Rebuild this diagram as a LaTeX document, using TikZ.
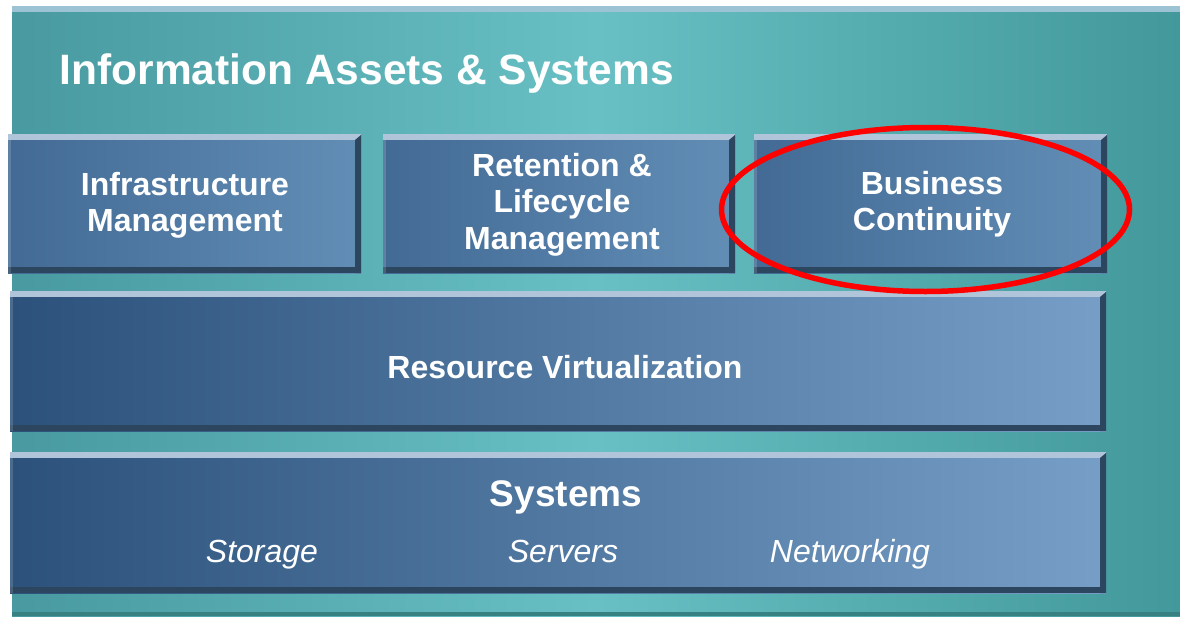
\documentclass[tikz,border=0pt]{standalone}
\usepackage{fontspec}
\setmainfont{Liberation Sans}
\usetikzlibrary{shapes.geometric}
\definecolor{tealL}{RGB}{72,154,160}
\definecolor{tealM}{RGB}{104,192,196}
\definecolor{tealR}{RGB}{66,152,154}
\definecolor{topL}{RGB}{66,106,148}
\definecolor{topR}{RGB}{98,142,182}
\definecolor{wideL}{RGB}{44,82,124}
\definecolor{wideR}{RGB}{118,158,198}
\definecolor{bevlight}{RGB}{176,196,218}
\definecolor{bevdark}{RGB}{44,70,96}
\tikzset{
  bevelbox/.style={rectangle, inner sep=0pt, text=white,
    path picture={
      \fill[bevlight] (path picture bounding box.north west) rectangle ([yshift=-6pt]path picture bounding box.north east);
      \fill[bevdark] ([xshift=-6pt,yshift=-6pt]path picture bounding box.north east) -- ([yshift=-1pt]path picture bounding box.north east) -- (path picture bounding box.south east) -- ([xshift=-6pt]path picture bounding box.south east) -- cycle;
      \fill[bevdark] (path picture bounding box.south west) rectangle ([xshift=-1pt,yshift=6pt]path picture bounding box.south east);
      \fill[white,opacity=0.15] (path picture bounding box.south west) rectangle ([xshift=3pt,yshift=-6pt]path picture bounding box.north west);
    }},
  topbox/.style={bevelbox, left color=topL, right color=topR, minimum height=139pt},
  widebox/.style={bevelbox, left color=wideL, right color=wideR, minimum width=1096pt, minimum height=140pt},
  lbl/.style={text=white, inner sep=0pt, anchor=base, align=center},
  sublbl/.style={text=white, inner sep=0pt, anchor=base, font=\itshape\fontsize{32}{37}\selectfont},
}
\begin{document}
\begin{tikzpicture}[x=1pt,y=-1pt]
\useasboundingbox (0,0) rectangle (1180,616);
\fill[white] (0,0) rectangle (1180,616);
% panel
\shade[left color=tealL, right color=tealR, middle color=tealM] (12,6) rectangle (1180,616);
\fill[tealR!85!black] (12,612) rectangle (1180,616);
\fill[bevlight!70!tealM] (12,6) rectangle (1180,12);
\node[anchor=base west, text=white, inner sep=0pt, font=\bfseries\fontsize{42.5}{50}\selectfont] (title) at (59.5,84) {Information Assets \& Systems};
% top row
\node[topbox, minimum width=353pt] (infra) at (184.5,203.5) {};
\node[lbl, font=\bfseries\fontsize{32}{35.5}\selectfont] (infraT) at (185,231) {Infrastructure\\Management};
\node[topbox, minimum width=352pt] (ret) at (559,203.5) {};
\node[lbl, font=\bfseries\fontsize{32}{36.5}\selectfont] (retT) at (562,249) {Retention \&\\Lifecycle\\Management};
\node[topbox, minimum width=353pt] (bc) at (930.5,203.5) {};
\node[lbl, font=\bfseries\fontsize{32}{36}\selectfont] (bcT) at (932,230) {Business\\Continuity};
% wide boxes
\node[widebox] (rv) at (558,361) {};
\node[lbl, font=\bfseries\fontsize{32}{37}\selectfont] (rvT) at (565,378.3) {Resource Virtualization};
\node[widebox, minimum height=141pt] (sys) at (558,522.5) {};
\node[lbl, font=\bfseries\fontsize{37}{42}\selectfont] (sysT) at (566,506.5) {Systems};
\node[sublbl] (stor) at (262,562) {Storage};
\node[sublbl] (serv) at (563,562) {Servers};
\node[sublbl] (net) at (850,562) {Networking};
% red ellipse
\draw[red, line width=5.5pt] (925.5,209.5) ellipse [x radius=204, y radius=82];
\end{tikzpicture}
\end{document}
